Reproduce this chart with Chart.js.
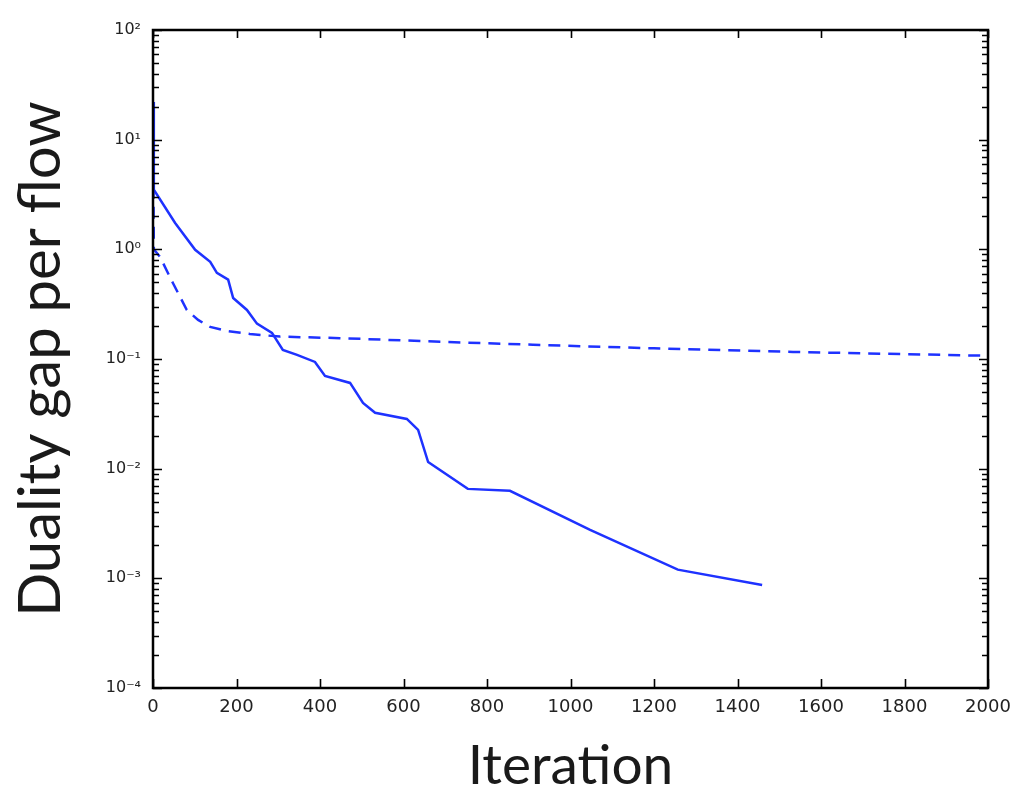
<!DOCTYPE html>
<html>
<head>
<meta charset="utf-8">
<style>
  html, body { margin: 0; padding: 0; background: #fff; }
  #wrap { width: 1017px; height: 794px; }
</style>
<script src="https://cdn.jsdelivr.net/npm/chart.js@4.4.1/dist/chart.umd.min.js"></script>
</head>
<body>
<div id="wrap"><canvas id="c" width="1017" height="794"></canvas></div>
<script>
// ---- data ----
const solidIter = [0, 2, 53, 101, 137, 153, 180, 192, 225, 249, 285, 311, 345, 388, 412, 472, 503, 532, 608, 635, 659, 754, 855, 1047, 1257, 1459];
const solidGap  = [22, 3.5, 1.74, 0.99, 0.77, 0.61, 0.53, 0.36, 0.28, 0.21, 0.173, 0.121, 0.109, 0.094, 0.070, 0.0605, 0.0398, 0.0323, 0.0284, 0.0226, 0.0115, 0.00654, 0.00628, 0.00277, 0.00120, 0.00087];

const dashedIter = [0, 2, 17, 48, 81, 108, 137, 177, 232, 304, 448, 700, 910, 1200, 1533, 2000];
const dashedGap  = [20, 1.0, 0.85, 0.49, 0.28, 0.227, 0.196, 0.180, 0.169, 0.160, 0.155, 0.143, 0.135, 0.125, 0.116, 0.107];

const xTickValues = [0, 200, 400, 600, 800, 1000, 1200, 1400, 1600, 1800, 2000];
const yDecades = [-4, -3, -2, -1, 0, 1, 2];
const yDecadeLabels = ['10\u207B\u2074', '10\u207B\u00B3', '10\u207B\u00B2', '10\u207B\u00B9', '10\u2070', '10\u00B9', '10\u00B2'];
const yMinorMultipliers = [1, 2, 3, 4, 5, 6, 7, 8, 9];

const xTitle = 'Iteration';
const yTitle = 'Duality gap per flow';

// ---- helpers ----
const yTickValues = [];
yDecades.forEach((e, i) => {
  if (i === yDecades.length - 1) { yTickValues.push(Math.pow(10, e)); return; }
  yMinorMultipliers.forEach(m => yTickValues.push(m * Math.pow(10, e)));
});
function decadeIndex(v) {
  const l = Math.log10(v);
  const r = Math.round(l);
  return Math.abs(l - r) < 1e-9 ? yDecades.indexOf(r) : -1;
}

const blue = 'rgb(30, 50, 255)';

const inwardTicks = {
  id: 'inwardTicks',
  afterDatasetsDraw(chart) {
    const { ctx, chartArea: a, scales: { x, y } } = chart;
    ctx.save();
    ctx.strokeStyle = '#000';
    ctx.lineWidth = 1.6;
    ctx.beginPath();
    x.ticks.forEach(t => {
      const px = Math.round(x.getPixelForValue(t.value)) + 0.5;
      ctx.moveTo(px, a.bottom); ctx.lineTo(px, a.bottom - 9);
      ctx.moveTo(px, a.top); ctx.lineTo(px, a.top + 8);
    });
    y.ticks.forEach(t => {
      const py = Math.round(y.getPixelForValue(t.value)) + 0.5;
      const len = decadeIndex(t.value) >= 0 ? 9 : 6;
      ctx.moveTo(a.left, py); ctx.lineTo(a.left + len, py);
      ctx.moveTo(a.right, py); ctx.lineTo(a.right - len, py);
    });
    ctx.stroke();
    ctx.lineWidth = 2.5;
    ctx.strokeRect(a.left, a.top, a.right - a.left, a.bottom - a.top);
    ctx.restore();
  }
};

new Chart(document.getElementById('c'), {
  type: 'line',
  data: {
    datasets: [
      {
        label: 'solid',
        data: solidIter.map((v, i) => ({ x: v, y: solidGap[i] })),
        borderColor: blue,
        borderWidth: 2.5,
        pointRadius: 0,
        tension: 0,
        fill: false
      },
      {
        label: 'dashed',
        data: dashedIter.map((v, i) => ({ x: v, y: dashedGap[i] })),
        borderColor: blue,
        borderWidth: 2.5,
        borderDash: [12, 8],
        pointRadius: 0,
        tension: 0,
        fill: false
      }
    ]
  },
  options: {
    responsive: false,
    devicePixelRatio: 1,
    animation: false,
    layout: { padding: { top: 30, right: 29, left: 0, bottom: 0 } },
    plugins: { legend: { display: false }, tooltip: { enabled: false } },
    scales: {
      x: {
        type: 'linear',
        min: 0, max: 2000,
        afterBuildTicks(scale) { scale.ticks = xTickValues.map(v => ({ value: v })); },
        afterFit(scale) { scale.height = 106; scale.paddingLeft = 0; scale.paddingRight = 0; },
        grid: { display: false, drawTicks: false },
        border: { display: false },
        ticks: {
          autoSkip: false, maxRotation: 0, padding: 9,
          color: '#222',
          font: { family: 'DejaVu Sans', size: 18 },
          callback: v => String(v)
        },
        title: {
          display: true, text: xTitle, color: '#1a1a1a',
          font: { family: 'Lato', size: 55, lineHeight: 0.85 },
          padding: { top: 0, bottom: 4 }
        }
      },
      y: {
        type: 'logarithmic',
        min: 1e-4, max: 100,
        afterBuildTicks(scale) { scale.ticks = yTickValues.map(v => ({ value: v })); },
        afterFit(scale) { scale.width = 153; scale.paddingTop = 0; scale.paddingBottom = 0; },
        grid: { display: false, drawTicks: false },
        border: { display: false },
        ticks: {
          autoSkip: false, padding: 12,
          color: '#222',
          font: { family: 'DejaVu Sans', size: 16 },
          callback: v => { const i = decadeIndex(v); return i >= 0 ? yDecadeLabels[i] : ''; }
        },
        title: {
          display: true, text: yTitle, color: '#1a1a1a',
          font: { family: 'Lato', size: 58, lineHeight: 0.85 },
          padding: { top: 17, bottom: 0 }
        }
      }
    }
  },
  plugins: [inwardTicks]
});
</script>
</body>
</html>
